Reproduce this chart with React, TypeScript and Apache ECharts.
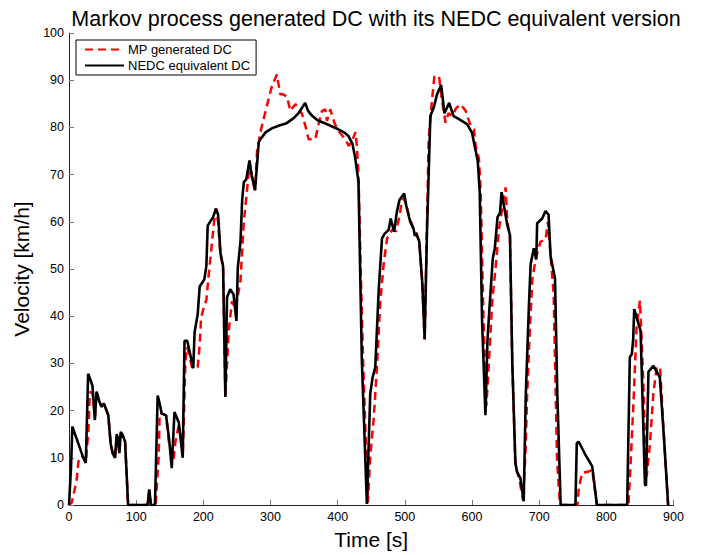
import React, { useEffect, useRef } from "react";
import * as echarts from "echarts";

const titleText = "Markov process generated DC with its NEDC equivalent version";
const xName = "Time [s]";
const yName = "Velocity [km/h]";
const seriesNames = ["MP generated DC", "NEDC equivalent DC"];

const mpTime = [0, 4, 8, 11.5, 14, 19, 25, 29, 31, 35, 38.7, 41, 45, 48.5, 52, 58.5, 62, 65, 68.5, 71, 73, 75, 77, 80, 83.5, 88, 117, 119.5, 122, 129, 133.5, 135, 138, 144.5, 149, 155.7, 158.4, 163.5, 169.5, 171.8, 173.3, 175.8, 179, 183, 191.6, 194.6, 196.7, 200.6, 204.6, 208, 211.6, 214.5, 218, 222, 225.5, 229.4, 232.8, 237.8, 242.8, 247.5, 251, 255.3, 260.3, 264.3, 269, 273, 277, 280, 285, 294.5, 302, 309.5, 314.5, 318, 324.5, 329.5, 337, 340, 347, 352, 356.7, 366.7, 371.6, 376.7, 381.6, 384, 389, 395, 401, 411, 416.6, 421, 426.6, 428.6, 431, 434, 438, 443.5, 445, 448.5, 453.5, 458.5, 463.5, 468.5, 473.5, 481, 487, 493, 495, 499, 503, 506, 513, 517, 521.5, 526, 529.5, 535.5, 540.6, 544, 551, 555, 560.6, 565, 570.6, 576, 583, 590.6, 598, 603, 605.4, 610.4, 613, 617, 621.4, 625.5, 630.5, 635, 640, 645, 650, 652.6, 656.5, 660, 664.6, 671, 676, 680, 682, 686.5, 690, 695, 702, 709.5, 713, 716.7, 721.6, 726.6, 731, 757, 759, 764, 774, 779, 786, 833, 836.4, 841, 845, 850, 852, 855.7, 858, 860, 865, 870, 875, 880, 886, 892];
const mpSpeed = [0, 0.5, 3, 5.4, 9.2, 10.5, 9, 16, 24, 23.6, 18.7, 24, 22, 20.8, 21.5, 19, 13, 11, 10, 14.5, 13.5, 11, 15, 14.5, 13.4, 0, 0, 3, 0, 0, 10.3, 19.4, 19.4, 19, 13, 9.6, 13.4, 17, 11, 22.3, 30.6, 33.4, 32, 29.2, 29.2, 34, 39.7, 41.8, 43.5, 48.8, 53.7, 57.9, 62.8, 60, 53, 50.5, 22.9, 37, 43.2, 41.5, 44, 47.5, 60, 65.6, 72.6, 69, 66.7, 75, 79, 84.5, 88.7, 91.2, 87, 87, 86.6, 83.5, 84.9, 84.5, 82.8, 80.3, 77.5, 77.5, 80.7, 83.5, 83.8, 81.4, 83.8, 81, 79.3, 77.5, 76.1, 77, 79, 76, 70, 51.7, 30, 6.8, 0.5, 10.3, 18, 29.2, 43.2, 51, 56.5, 58.3, 58, 61.8, 64.3, 65, 63, 61.4, 58.5, 57.6, 55.8, 47, 35, 77.5, 86, 90.8, 90.8, 86, 81, 83, 82.4, 84, 84.9, 83.5, 80.3, 79.6, 76.1, 73.3, 66, 40, 21, 31, 43.9, 50, 58.3, 62.8, 67.3, 60, 57, 30, 8.5, 5, 1, 12.4, 23, 38.3, 48, 52.3, 55.8, 56.2, 60, 53.5, 44.6, 9.6, 0, 0, 3.6, 6.8, 7.1, 7.5, 0, 0, 9.6, 23.6, 37.6, 43.3, 37, 23.6, 10, 6, 13, 23.6, 29.2, 29.2, 13.8, 0];

const nedcTime = [0, 3, 5, 12, 20, 25, 28.5, 32, 35, 38.5, 41, 45, 48.5, 52, 58.5, 62, 65, 68.5, 71, 73, 75, 77, 80, 83.5, 88, 117, 119.5, 122, 128, 132, 135, 138, 144.5, 149, 153, 157, 163.5, 169.3, 172, 176, 185, 187, 191.6, 194.6, 201.5, 204.5, 206.5, 214.5, 219, 222, 225.5, 229.4, 232.8, 235.3, 240, 245, 249.3, 251.3, 255.3, 257.8, 260.3, 264, 268.7, 272, 277, 282.5, 285, 293, 302, 313, 324, 334, 341.7, 351.6, 356, 361.6, 370, 379, 390, 401, 410, 416, 422, 426, 431, 436, 443.5, 448.5, 452, 456, 461, 466, 470, 476, 479, 482, 484, 488, 492, 499, 502, 505.6, 508, 513, 515, 517, 521.5, 526, 529.5, 533, 538, 543, 548, 554, 559, 566, 572.6, 580, 592.6, 600, 604, 608.5, 611.5, 615, 620, 623, 626, 631, 634, 638, 641.6, 644, 652.6, 656.5, 660, 664.6, 667, 672, 677, 680, 684.8, 687.3, 692, 695.7, 697, 704.5, 709.5, 714, 717, 723.6, 727, 732, 754, 756, 759, 769, 779, 786, 831, 835, 838, 840, 841.5, 851, 857.5, 859, 862.7, 870, 879.6, 886, 892];
const nedcSpeed = [0, 8, 16.6, 13.8, 10.5, 8.9, 27.8, 26.5, 25.2, 18, 24, 22, 20.8, 21.5, 19, 13, 11, 10, 15, 14, 11, 15.5, 14.8, 13.4, 0, 0, 3.3, 0, 0, 23.2, 21.5, 19.4, 19, 14, 7.8, 19.7, 17.5, 10, 34.8, 34.8, 29, 36.6, 40.4, 46.3, 47.8, 50.6, 59.2, 61, 62.8, 61.5, 53.4, 50.6, 22.9, 44, 45.7, 44.6, 39, 50.2, 55.8, 64.6, 68.4, 69, 73, 69.8, 66.7, 76.8, 77.5, 79, 79.8, 80.4, 80.9, 81.9, 83, 85.2, 83.5, 82.5, 81.5, 81, 80.3, 79.6, 78.9, 78.2, 76.5, 73.7, 68.4, 30.6, 0.2, 23.6, 27, 29.2, 45.3, 56.5, 57.5, 58.3, 60.7, 59, 57.9, 62, 64.6, 66, 63.5, 61.4, 60, 58.5, 57, 57.6, 55.8, 47, 35.2, 58, 82.4, 84.2, 87, 89, 83, 85.2, 82.4, 81.8, 80.7, 78.9, 76, 73, 66.3, 39, 19, 34.8, 41.8, 52.3, 54.4, 61, 61.8, 66.3, 59.3, 57.2, 30, 9, 7, 5.7, 0.8, 23, 42.5, 51, 54.4, 52, 59.7, 60.7, 62.3, 61.5, 52.7, 48, 23.6, 0, 0, 13.1, 13.4, 10.6, 8.2, 0, 0, 31.3, 32, 35.2, 41.5, 36.9, 4.3, 4.1, 28.2, 29.5, 27.1, 13.8, 0];

const font = "'Liberation Sans', Arial, Helvetica, sans-serif";

function pairs(t: number[], v: number[]) {
  return t.map((x, i) => [x, v[i]]);
}

export default function App() {
  const ref = useRef<HTMLDivElement>(null);
  useEffect(() => {
    if (!ref.current) return;
    const chart = echarts.init(ref.current, undefined, { renderer: "svg" });
    chart.setOption({
      animation: false,
      backgroundColor: "#ffffff",
      textStyle: { fontFamily: font },
      title: {
        text: titleText,
        left: 371,
        textAlign: "center",
        top: 3,
        textStyle: { fontFamily: font, fontSize: 21.5, fontWeight: "normal", color: "#000" },
      },
      legend: {
        orient: "vertical",
        left: 76,
        top: 40,
        padding: [3, 6, 3, 8],
        itemWidth: 39,
        itemHeight: 14,
        itemGap: 3,
        backgroundColor: "#fff",
        borderColor: "#000",
        borderWidth: 1,
        borderRadius: 0,
        itemStyle: { opacity: 0 },
        textStyle: { fontFamily: font, fontSize: 13, color: "#000", padding: [0, 0, 0, -1] },
        data: seriesNames,
      },
      grid: { left: 69, right: 28.5, top: 33, bottom: 46, containLabel: false },
      xAxis: {
        type: "value",
        min: 0,
        max: 900,
        interval: 100,
        name: xName,
        nameLocation: "middle",
        nameGap: 24,
        nameTextStyle: { fontFamily: font, fontSize: 21, color: "#000", verticalAlign: "top" },
        axisLine: { show: true, onZero: false, lineStyle: { color: "#222", width: 1 } },
        axisTick: { show: true, inside: true, length: 5, lineStyle: { color: "#777" } },
        axisLabel: { margin: 5, fontSize: 12.5, color: "#000", fontFamily: font },
        splitLine: { show: false },
      },
      yAxis: {
        type: "value",
        min: 0,
        max: 100,
        interval: 10,
        name: yName,
        nameLocation: "middle",
        nameGap: 34,
        nameTextStyle: { fontFamily: font, fontSize: 21, color: "#000", verticalAlign: "bottom" },
        axisLine: { show: true, onZero: false, lineStyle: { color: "#222", width: 1 } },
        axisTick: { show: true, inside: true, length: 5, lineStyle: { color: "#777" } },
        axisLabel: { margin: 5, fontSize: 12.5, color: "#000", fontFamily: font },
        splitLine: { show: false },
      },
      series: [
        {
          name: seriesNames[0],
          type: "line",
          symbol: "none",
          showSymbol: false,
          data: pairs(mpTime, mpSpeed),
          color: "#ff0000",
          lineStyle: { color: "#ff0000", width: 2.5, type: [8, 5] },
          z: 2,
        },
        {
          name: seriesNames[1],
          type: "line",
          symbol: "none",
          showSymbol: false,
          data: pairs(nedcTime, nedcSpeed),
          color: "#000000",
          lineStyle: { color: "#000000", width: 2.6 },
          z: 3,
        },
      ],
    });
    return () => chart.dispose();
  }, []);
  return <div ref={ref} style={{ width: 702, height: 555, position: "absolute", left: 0, top: 0 }} />;
}
